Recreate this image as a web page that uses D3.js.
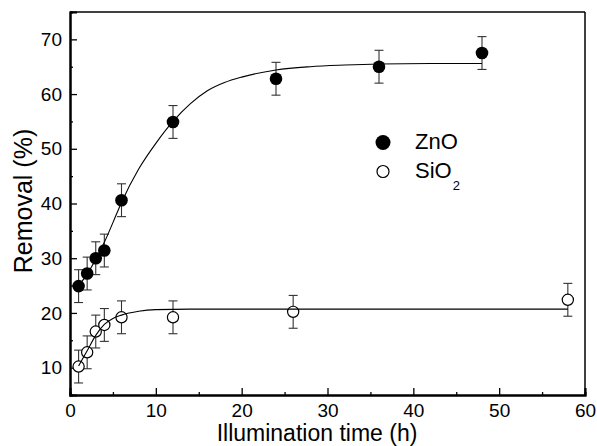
<!DOCTYPE html>
<html><head><meta charset="utf-8">
<script src="https://cdn.jsdelivr.net/npm/d3@7"></script>
<style>
body{margin:0;background:#fff}
svg{display:block}
text{font-family:"Liberation Sans",Arial,Helvetica,sans-serif;fill:#000}
</style>
</head><body><svg id="c" width="597" height="446"></svg>
<script>
// ---- data ----
const timeZnO = [1, 2, 3, 4, 6, 12, 24, 36, 48];
const removalZnO = [24.9, 27.2, 30.0, 31.4, 40.6, 54.9, 62.8, 65.0, 67.5];
const errZnO = [3, 3, 3, 3, 3, 3, 3, 3, 3];

const timeSiO2 = [1, 2, 3, 4, 6, 12, 26, 58];
const removalSiO2 = [10.2, 12.8, 16.6, 17.8, 19.2, 19.2, 20.2, 22.4];
const errSiO2 = [3, 3, 3, 3, 3, 3, 3, 3];

// fitted curves
const fitZnOTime = [1, 2, 3, 4, 5, 6, 8, 10, 12, 14, 16, 18, 20, 24, 28, 32, 36, 42, 48];
const fitZnOValue = [25.0, 27.1, 29.8, 32.9, 36.5, 40.2, 46.3, 51.0, 55.0, 58.2, 60.6, 62.1, 63.1, 64.4, 65.0, 65.3, 65.5, 65.6, 65.6];
const fitSiO2Time = [1, 2, 3, 4, 5, 6, 8, 10, 14, 58];
const fitSiO2Value = [10.3, 13.1, 15.9, 17.9, 19.0, 19.6, 20.3, 20.6, 20.7, 20.7];

const xTicks = [0, 10, 20, 30, 40, 50, 60];
const yTicks = [10, 20, 30, 40, 50, 60, 70];
const xMinor = [5, 15, 25, 35, 45, 55];
const yMinor = [15, 25, 35, 45, 55, 65];
const legendLabels = ["ZnO", "SiO"];

// ---- layout ----
const L = 70, R = 585, T = 12, B = 395;
const svg = d3.select("#c");
const x = d3.scaleLinear().domain([0, 60]).range([L, R]);
const y = d3.scaleLinear().domain([5, 75]).range([B, T]);

// frame
svg.append("line").attr("x1", L).attr("x2", R).attr("y1", T).attr("y2", T).attr("stroke", "#000").attr("stroke-width", 1.5);
svg.append("line").attr("x1", R).attr("x2", R).attr("y1", T).attr("y2", B).attr("stroke", "#000").attr("stroke-width", 1.5);

// axes (ticks inside)
const xAxis = svg.append("g").attr("transform", `translate(0,${B})`)
  .call(d3.axisBottom(x).tickValues(xTicks).tickSize(-7).tickPadding(9).tickFormat(d3.format("d")));
const xAxisMinor = svg.append("g").attr("transform", `translate(0,${B})`)
  .call(d3.axisBottom(x).tickValues(xMinor).tickSize(-3).tickFormat(""));
const yAxis = svg.append("g").attr("transform", `translate(${L},0)`)
  .call(d3.axisLeft(y).tickValues(yTicks).tickSize(-7).tickPadding(8).tickFormat(d3.format("d")));
const yAxisMinor = svg.append("g").attr("transform", `translate(${L},0)`)
  .call(d3.axisLeft(y).tickValues(yMinor).tickSize(-3).tickFormat(""));

[xAxis, xAxisMinor, yAxis, yAxisMinor].forEach(g => {
  g.attr("font-size", 19).attr("font-family", '"Liberation Sans",Arial,sans-serif');
  g.select(".domain").attr("stroke", "#000").attr("stroke-width", 2);
  g.selectAll(".tick line").attr("stroke", "#000").attr("stroke-width", 1.3);
  g.selectAll("text").attr("font-size", 19).attr("fill", "#000");
});

// axis titles
svg.append("text").attr("x", 317).attr("y", 441).attr("text-anchor", "middle")
  .attr("font-size", 23).text("Illumination time (h)");
svg.append("text").attr("transform", "translate(32,201) rotate(-90)").attr("text-anchor", "middle")
  .attr("font-size", 25).text("Removal (%)");

// error bars
function errBars(ts, vs, es) {
  const g = svg.append("g").attr("stroke", "#333").attr("stroke-width", 1.1);
  ts.forEach((t, i) => {
    const cx = x(t), y1 = y(vs[i] + es[i]), y2 = y(vs[i] - es[i]);
    g.append("line").attr("x1", cx).attr("x2", cx).attr("y1", y1).attr("y2", y2);
    g.append("line").attr("x1", cx - 4.5).attr("x2", cx + 4.5).attr("y1", y1).attr("y2", y1);
    g.append("line").attr("x1", cx - 4.5).attr("x2", cx + 4.5).attr("y1", y2).attr("y2", y2);
  });
}
errBars(timeZnO, removalZnO, errZnO);
errBars(timeSiO2, removalSiO2, errSiO2);

// markers
svg.append("g").selectAll("circle").data(timeZnO).join("circle")
  .attr("cx", d => x(d)).attr("cy", (d, i) => y(removalZnO[i])).attr("r", 6.3).attr("fill", "#000");
svg.append("g").selectAll("circle").data(timeSiO2).join("circle")
  .attr("cx", d => x(d)).attr("cy", (d, i) => y(removalSiO2[i])).attr("r", 5.6)
  .attr("fill", "#fff").attr("stroke", "#000").attr("stroke-width", 1.2);

// fit lines
const line = d3.line().x(d => x(d[0])).y(d => y(d[1])).curve(d3.curveMonotoneX);
svg.append("path").datum(fitZnOTime.map((t, i) => [t, fitZnOValue[i]]))
  .attr("d", line).attr("fill", "none").attr("stroke", "#000").attr("stroke-width", 1.1);
svg.append("path").datum(fitSiO2Time.map((t, i) => [t, fitSiO2Value[i]]))
  .attr("d", line).attr("fill", "none").attr("stroke", "#000").attr("stroke-width", 1.1);

// legend
svg.append("circle").attr("cx", 383).attr("cy", 142.5).attr("r", 7.5).attr("fill", "#000");
svg.append("circle").attr("cx", 383).attr("cy", 171.5).attr("r", 6).attr("fill", "#fff").attr("stroke", "#000").attr("stroke-width", 1.2);
svg.append("text").attr("x", 415).attr("y", 148.5).attr("font-size", 22).text(legendLabels[0]);
const t2 = svg.append("text").attr("x", 415).attr("y", 177.5).attr("font-size", 22);
t2.append("tspan").text(legendLabels[1]);
t2.append("tspan").attr("font-size", 13).attr("dy", 12).attr("dx", 1).text("2");
</script>
</body></html>
